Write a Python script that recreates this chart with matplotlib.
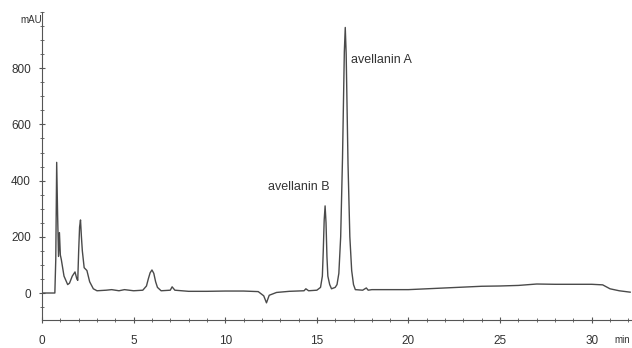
import matplotlib
matplotlib.use('Agg')
import matplotlib.pyplot as plt
from matplotlib.ticker import MultipleLocator

# chromatogram trace (time in min, signal in mAU)
time = [0, 0.7, 0.75, 0.8, 0.85, 0.9, 0.95, 1.0, 1.05, 1.2, 1.4, 1.5, 1.65, 1.8,
        1.9, 1.95, 2.0, 2.05, 2.1, 2.15, 2.2, 2.3, 2.45, 2.6, 2.8, 3.0, 3.5, 3.8,
        4.2, 4.5, 5.0, 5.5, 5.7, 5.8, 5.9, 6.0, 6.1, 6.2, 6.3, 6.5, 7.0, 7.1,
        7.25, 8, 9, 10, 11, 11.8, 12.1, 12.25, 12.4, 12.8, 13.5, 14.3, 14.4,
        14.55, 15.0, 15.2, 15.3, 15.35, 15.4, 15.45, 15.5, 15.55, 15.6, 15.7,
        15.8, 16.0, 16.1, 16.2, 16.3, 16.4, 16.5, 16.55, 16.6, 16.7, 16.8,
        16.9, 17.0, 17.1, 17.5, 17.7, 17.8, 18, 19, 20, 21, 22, 23, 24, 25, 26,
        27, 28, 29, 30, 30.6, 31.0, 31.5, 32.1]
signal = [0, 0, 120, 465, 280, 130, 215, 135, 120, 60, 30, 35, 60, 75,
          50, 45, 150, 235, 260, 200, 150, 90, 80, 40, 15, 8, 10, 12,
          8, 12, 8, 10, 25, 50, 72, 82, 70, 40, 20, 8, 10, 22,
          10, 6, 6, 7, 7, 5, -10, -35, -8, 2, 6, 8, 15,
          8, 10, 20, 60, 150, 260, 310, 250, 130, 60, 30,
          15, 20, 30, 70, 200, 480, 860, 945, 850, 460, 200,
          80, 30, 12, 10, 18, 10, 12, 12, 12, 15, 18, 21, 24, 25, 27,
          32, 31, 31, 31, 29, 15, 8, 3]

peak_labels = ['avellanin B', 'avellanin A']
label_pos = [(12.35, 376), (16.85, 830)]

plt.rcParams['font.family'] = ['Liberation Sans', 'DejaVu Sans']
fig = plt.figure(figsize=(6.32, 3.48), dpi=100)
ax = fig.add_axes([0.0665, 0.0805, 0.9335, 0.885])

ax.plot(time, signal, color='#4a4a4a', lw=1.0)

for lab, (x, y) in zip(peak_labels, label_pos):
    ax.text(x, y, lab, fontsize=9, color='#333333', va='center', ha='left')

ax.set_xlim(0, 32.2)
ax.set_ylim(-96, 1000)
ax.xaxis.set_major_locator(MultipleLocator(5))
ax.xaxis.set_minor_locator(MultipleLocator(1))
ax.yaxis.set_major_locator(MultipleLocator(200))
ax.yaxis.set_minor_locator(MultipleLocator(50))
ax.set_yticks([0, 200, 400, 600, 800])

for s in ['top', 'right']:
    ax.spines[s].set_visible(False)
for s in ['left', 'bottom']:
    ax.spines[s].set_color('#555555')
    ax.spines[s].set_linewidth(0.8)

ax.tick_params(which='major', direction='inout', length=4, color='#555555',
               labelsize=8.5, labelcolor='#333333')
ax.tick_params(which='minor', direction='inout', length=3, color='#555555')
ax.tick_params(axis='x', pad=9)
ax.tick_params(axis='y', pad=6)

fig.text(20 / 632, 1 - 20 / 348, 'mAU', fontsize=7, color='#333333', va='center', ha='left')
fig.text(614 / 632, 1 - 340 / 348, 'min', fontsize=7, color='#333333', va='center', ha='left')

fig.savefig('out.png', dpi=100)
